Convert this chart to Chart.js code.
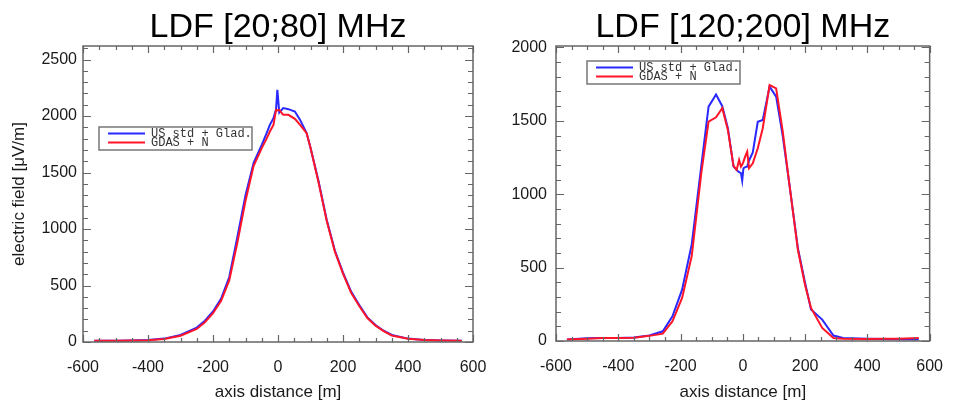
<!DOCTYPE html>
<html>
<head>
<meta charset="utf-8">
<script src="https://cdn.jsdelivr.net/npm/chart.js@4.4.1/dist/chart.umd.min.js"></script>
<style>
  html, body { margin: 0; padding: 0; background: #fff; }
  #wrap { position: relative; width: 959px; height: 401px; }
  #wrap canvas { position: absolute; left: 0; top: 0; }
</style>
</head>
<body>
<div id="wrap">
  <canvas id="ldfLow" width="959" height="401"></canvas>
  <canvas id="ldfHigh" width="959" height="401"></canvas>
</div>
<script>
// values
const seriesNames = ['US std + Glad.', 'GDAS + N'];
const lowTitle = 'LDF [20;80] MHz';
const highTitle = 'LDF [120;200] MHz';

const lowDist = [-565, -500, -450, -400, -350, -300, -250, -225, -200, -175, -150, -125, -100, -75, -50, -35, -25, -14, -6, -2, 4, 16, 32, 52, 68, 88, 100, 125, 150, 175, 200, 225, 250, 275, 300, 325, 350, 400, 450, 500, 565];
const lowUS = [10, 12, 14, 18, 30, 62, 128, 189, 270, 385, 575, 930, 1300, 1585, 1745, 1849, 1922, 1981, 2060, 2232, 2031, 2070, 2061, 2040, 1966, 1849, 1720, 1420, 1080, 810, 615, 446, 328, 218, 150, 100, 62, 30, 18, 14, 12];
const lowGDAS = [10, 12, 14, 16, 26, 55, 115, 175, 255, 365, 545, 880, 1250, 1560, 1716, 1800, 1863, 1922, 2055, 2050, 2055, 2011, 2011, 1975, 1922, 1849, 1720, 1410, 1070, 800, 605, 436, 318, 212, 145, 96, 58, 28, 17, 14, 12];

const highDist = [-565, -500, -450, -400, -350, -300, -257, -226, -195, -164, -133, -110, -86, -66, -48, -30, -20, -12, -6, -2, 2, 8, 14, 20, 32, 48, 64, 86, 107, 128, 150, 177, 200, 219, 255, 291, 322, 400, 450, 500, 565];
const highUS = [10, 18, 20, 21, 24, 38, 66, 168, 350, 660, 1200, 1597, 1680, 1600, 1450, 1190, 1166, 1150, 1144, 1093, 1177, 1185, 1188, 1230, 1285, 1494, 1506, 1733, 1665, 1400, 1060, 630, 395, 214, 146, 37, 21, 15, 13, 12, 10];
const highGDAS = [10, 15, 20, 20, 22, 35, 50, 134, 293, 580, 1150, 1494, 1524, 1586, 1438, 1193, 1166, 1234, 1188, 1200, 1222, 1260, 1290, 1177, 1211, 1313, 1450, 1744, 1721, 1430, 1060, 620, 380, 225, 89, 21, 16, 14, 15, 16, 20];

const xTicks = [-600, -400, -200, 0, 200, 400, 600];
const lowYTicks = [0, 500, 1000, 1500, 2000, 2500];
const highYTicks = [0, 500, 1000, 1500, 2000];

const BLUE = 'rgb(40,40,255)';
const RED = 'rgb(255,20,40)';
const SANS = '"Liberation Sans", Arial, Helvetica, sans-serif';

// frame with inward ticks on all four sides, title and boxed legend
const ldfDecor = {
  id: 'ldfDecor',
  afterDatasetsDraw(chart, args, opts) {
    const { ctx, chartArea: a, scales: { x, y } } = chart;
    ctx.save();
    ctx.strokeStyle = '#666';
    ctx.lineWidth = 1.2;
    ctx.beginPath();
    for (let v = x.min; v <= x.max; v += 50) {
      const px = Math.round(x.getPixelForValue(v)) + 0.5;
      const len = v % 200 === 0 ? 7 : 4;
      ctx.moveTo(px, a.bottom); ctx.lineTo(px, a.bottom - len);
      ctx.moveTo(px, a.top); ctx.lineTo(px, a.top + len);
    }
    for (let v = 0; v <= y.max; v += 100) {
      const py = Math.round(y.getPixelForValue(v)) + 0.5;
      const len = v % 500 === 0 ? 8 : 5;
      ctx.moveTo(a.left, py); ctx.lineTo(a.left + len, py);
      ctx.moveTo(a.right, py); ctx.lineTo(a.right - len, py);
    }
    ctx.stroke();
    ctx.lineWidth = 1.5;
    ctx.strokeRect(a.left, a.top, a.right - a.left, a.bottom - a.top);
    ctx.restore();
  },
  afterDraw(chart, args, opts) {
    const { ctx, chartArea: a } = chart;
    ctx.save();
    // title
    ctx.fillStyle = '#000';
    ctx.font = '34px ' + SANS;
    ctx.textAlign = 'center';
    ctx.textBaseline = 'alphabetic';
    ctx.fillText(opts.title, (a.left + a.right) / 2, 37);
    // legend
    const lx = a.left + opts.legendAt[0];
    const ly = a.top + opts.legendAt[1];
    ctx.fillStyle = '#fff';
    ctx.fillRect(lx, ly, 153, 23);
    ctx.strokeStyle = '#777';
    ctx.lineWidth = 1.5;
    ctx.strokeRect(lx, ly, 153, 23);
    ctx.font = '12px "Liberation Mono", "DejaVu Sans Mono", monospace';
    ctx.textAlign = 'left';
    ctx.textBaseline = 'middle';
    chart.data.datasets.forEach((ds, i) => {
      const yy = ly + 6.5 + i * 9;
      ctx.strokeStyle = ds.borderColor;
      ctx.lineWidth = 2;
      ctx.beginPath();
      ctx.moveTo(lx + 9, yy);
      ctx.lineTo(lx + 46, yy);
      ctx.stroke();
      ctx.fillStyle = '#333';
      ctx.fillText(ds.label, lx + 52, yy + 0.5);
    });
    ctx.restore();
  }
};

function makeLdf(canvasId, opt) {
  const toPts = (vals) => opt.dist.map((d, i) => ({ x: d, y: vals[i] }));
  return new Chart(document.getElementById(canvasId), {
    type: 'line',
    data: {
      datasets: [
        { label: seriesNames[0], data: toPts(opt.us), borderColor: BLUE, borderWidth: 2, pointRadius: 0, order: 2 },
        { label: seriesNames[1], data: toPts(opt.gdas), borderColor: RED, borderWidth: 2, pointRadius: 0, order: 1 },
      ],
    },
    options: {
      responsive: false,
      animation: false,
      devicePixelRatio: 1,
      layout: { padding: opt.padding },
      plugins: {
        legend: { display: false },
        tooltip: { enabled: false },
        ldfDecor: { title: opt.title, legendAt: opt.legendAt },
      },
      scales: {
        x: {
          type: 'linear',
          min: -600,
          max: 600,
          grid: { display: false, drawTicks: false },
          border: { display: false },
          afterBuildTicks: (s) => { s.ticks = xTicks.map((v) => ({ value: v })); },
          afterFit: (s) => { s.height = opt.xHeight; },
          ticks: { font: { family: SANS, size: 16 }, color: '#1a1a1a', padding: 16, maxRotation: 0, autoSkip: false, callback: (v) => String(v) },
          title: { display: true, text: 'axis distance [m]', font: { family: SANS, size: 17, lineHeight: 1 }, color: '#1a1a1a', padding: 0 },
        },
        y: {
          min: 0,
          max: opt.yMax,
          grid: { display: false, drawTicks: false },
          border: { display: false },
          afterBuildTicks: (s) => { s.ticks = opt.yTicks.map((v) => ({ value: v })); },
          afterFit: (s) => { s.width = opt.yWidth; },
          ticks: { font: { family: SANS, size: 16 }, color: '#1a1a1a', padding: opt.yPad, autoSkip: false, callback: (v) => String(v) },
          title: { display: !!opt.yTitle, text: opt.yTitle || '', font: { family: SANS, size: 17, lineHeight: 1 }, color: '#1a1a1a', padding: { top: 11, bottom: 0 } },
        },
      },
    },
    plugins: [ldfDecor],
  });
}

makeLdf('ldfLow', {
  title: lowTitle,
  dist: lowDist, us: lowUS, gdas: lowGDAS,
  yMax: 2620, yTicks: lowYTicks,
  yTitle: 'electric field [\u03bcV/m]',
  padding: { left: 0, right: 486, top: 46, bottom: 0 },
  yWidth: 83, yPad: 6, xHeight: 59,
  legendAt: [16, 81],
});

makeLdf('ldfHigh', {
  title: highTitle,
  dist: highDist, us: highUS, gdas: highGDAS,
  yMax: 2010, yTicks: highYTicks,
  yTitle: null,
  padding: { left: 480, right: 16, top: 46, bottom: 0 },
  yWidth: 76, yPad: 9, xHeight: 60,
  legendAt: [31, 15],
});
</script>
</body>
</html>
